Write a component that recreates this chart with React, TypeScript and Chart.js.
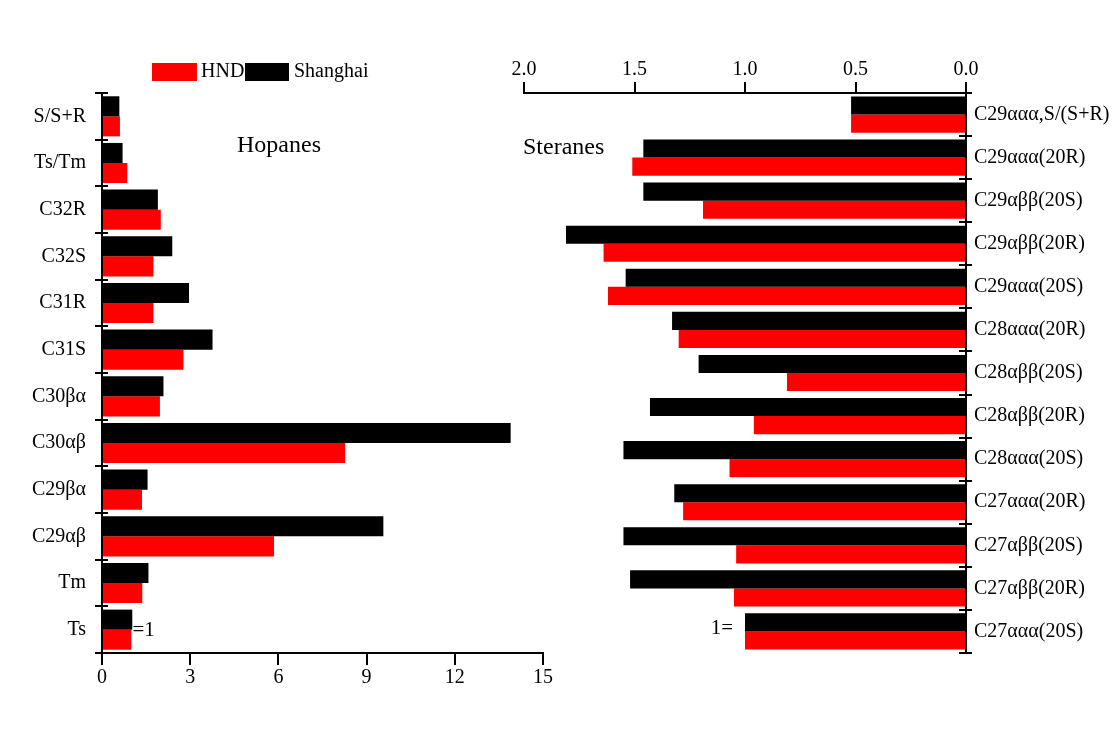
import React, { useEffect, useRef } from "react";
import { Chart, registerables } from "chart.js";
Chart.register(...registerables);

const FONT = "'Liberation Serif', 'Times New Roman', serif";

const HOP_LABELS = ["S/S+R", "Ts/Tm", "C32R", "C32S", "C31R", "C31S", "C30βα", "C30αβ", "C29βα", "C29αβ", "Tm", "Ts"];
const HOP_HND = [0.61, 0.86, 2.0, 1.75, 1.75, 2.77, 1.97, 8.27, 1.36, 5.85, 1.37, 1.0];
const HOP_SH = [0.59, 0.7, 1.9, 2.39, 2.96, 3.76, 2.09, 13.9, 1.55, 9.57, 1.58, 1.03];
const HOP_MAX = 15;
const HOP_STEP = 3;

const STE_LABELS = [
  "C29ααα,S/(S+R)", "C29ααα(20R)", "C29αββ(20S)", "C29αββ(20R)", "C29ααα(20S)",
  "C28ααα(20R)", "C28αββ(20S)", "C28αββ(20R)", "C28ααα(20S)", "C27ααα(20R)",
  "C27αββ(20S)", "C27αββ(20R)", "C27ααα(20S)",
];
const STE_HND = [0.52, 1.51, 1.19, 1.64, 1.62, 1.3, 0.81, 0.96, 1.07, 1.28, 1.04, 1.05, 1.0];
const STE_SH = [0.52, 1.46, 1.46, 1.81, 1.54, 1.33, 1.21, 1.43, 1.55, 1.32, 1.55, 1.52, 1.0];
const STE_MAX = 2.0;
const STE_STEP = 0.5;

const SERIES_NAMES = ["HND", "Shanghai"];
const RED = "#ff0000";
const BLACK = "#000000";

function crossTicks(chart: any, side: "left" | "right") {
  const ctx = chart.ctx;
  const y = chart.scales.y;
  const ax = side === "left" ? y.right : y.left;
  const n = y.ticks.length;
  ctx.save();
  ctx.strokeStyle = "#000";
  ctx.lineWidth = 2;
  for (let i = 0; i <= n; i++) {
    const py = Math.round(y.top + ((y.bottom - y.top) * i) / n);
    ctx.beginPath();
    ctx.moveTo(ax - 7, py);
    ctx.lineTo(ax + 6, py);
    ctx.stroke();
  }
  ctx.restore();
}

const leftDeco = {
  id: "leftDeco",
  afterDraw(chart: any) {
    crossTicks(chart, "left");
    const ctx = chart.ctx;
    const xs = chart.scales.x;
    const ys = chart.scales.y;
    ctx.save();
    ctx.textBaseline = "middle";
    ctx.textAlign = "left";
    // legend
    ctx.fillStyle = RED;
    ctx.fillRect(152, 63, 45, 18);
    ctx.fillStyle = "#000";
    ctx.font = `20px ${FONT}`;
    ctx.fillText(SERIES_NAMES[0], 201, 72);
    ctx.fillStyle = BLACK;
    ctx.fillRect(245, 63, 44, 18);
    ctx.fillStyle = "#000";
    ctx.fillText(SERIES_NAMES[1], 294, 72);
    // panel title
    ctx.font = `24px ${FONT}`;
    ctx.fillText("Hopanes", 237, 146);
    // =1 note
    ctx.font = `21px ${FONT}`;
    const last = HOP_LABELS.length - 1;
    ctx.fillText("=1", xs.getPixelForValue(1) + 1, ys.getPixelForValue(last) + 1);
    ctx.restore();
  },
};

const rightDeco = {
  id: "rightDeco",
  afterDraw(chart: any) {
    crossTicks(chart, "right");
    const ctx = chart.ctx;
    const xs = chart.scales.x;
    const ys = chart.scales.y;
    ctx.save();
    ctx.textBaseline = "middle";
    ctx.fillStyle = "#000";
    ctx.font = `24px ${FONT}`;
    ctx.textAlign = "left";
    ctx.fillText("Steranes", 523, 148);
    ctx.font = `21px ${FONT}`;
    ctx.textAlign = "right";
    const last = STE_LABELS.length - 1;
    ctx.fillText("1=", xs.getPixelForValue(1) - 12, ys.getPixelForValue(last) - 3);
    ctx.restore();
  },
};

export default function App() {
  const leftRef = useRef<HTMLCanvasElement>(null);
  const rightRef = useRef<HTMLCanvasElement>(null);

  useEffect(() => {
    Chart.defaults.font.family = FONT;
    Chart.defaults.color = "#000";

    const left = new Chart(leftRef.current as HTMLCanvasElement, {
      type: "bar",
      data: {
        labels: HOP_LABELS,
        datasets: [
          { label: SERIES_NAMES[1], data: HOP_SH, backgroundColor: BLACK, categoryPercentage: 0.86, barPercentage: 1 },
          { label: SERIES_NAMES[0], data: HOP_HND, backgroundColor: RED, categoryPercentage: 0.86, barPercentage: 1 },
        ],
      },
      options: {
        indexAxis: "y",
        responsive: false,
        animation: false,
        devicePixelRatio: 1,
        layout: { padding: { left: 12, right: 570, top: 93, bottom: 40 } },
        plugins: { legend: { display: false }, tooltip: { enabled: false } },
        scales: {
          x: {
            type: "linear",
            position: "bottom",
            min: 0,
            max: HOP_MAX,
            ticks: { stepSize: HOP_STEP, font: { size: 20, family: FONT }, color: "#000", padding: 1 },
            grid: { drawOnChartArea: false, drawTicks: true, tickLength: 12, color: "#000", lineWidth: 2 },
            border: { display: true, color: "#000", width: 2 },
            afterFit: (s: any) => { s.height = 40; },
          },
          y: {
            type: "category",
            position: "left",
            ticks: { font: { size: 20, family: FONT }, color: "#000", padding: 16 },
            grid: { drawOnChartArea: false, drawTicks: false },
            border: { display: true, color: "#000", width: 2 },
            afterFit: (s: any) => { s.width = 90; },
          },
        },
      } as any,
      plugins: [leftDeco],
    });

    const right = new Chart(rightRef.current as HTMLCanvasElement, {
      type: "bar",
      data: {
        labels: STE_LABELS,
        datasets: [
          { label: SERIES_NAMES[1], data: STE_SH, backgroundColor: BLACK, categoryPercentage: 0.84, barPercentage: 1 },
          { label: SERIES_NAMES[0], data: STE_HND, backgroundColor: RED, categoryPercentage: 0.84, barPercentage: 1 },
        ],
      },
      options: {
        indexAxis: "y",
        responsive: false,
        animation: false,
        devicePixelRatio: 1,
        layout: { padding: { left: 524, right: 0, top: 53, bottom: 80 } },
        plugins: { legend: { display: false }, tooltip: { enabled: false } },
        scales: {
          x: {
            type: "linear",
            position: "top",
            reverse: true,
            min: 0,
            max: STE_MAX,
            ticks: {
              stepSize: STE_STEP,
              font: { size: 20, family: FONT },
              color: "#000",
              padding: 0,
              callback: (v: any) => Number(v).toFixed(1),
            },
            grid: { drawOnChartArea: false, drawTicks: true, tickLength: 11, color: "#000", lineWidth: 2 },
            border: { display: true, color: "#000", width: 2 },
            afterFit: (s: any) => { s.height = 40; },
          },
          y: {
            type: "category",
            position: "right",
            ticks: { font: { size: 20, family: FONT }, color: "#000", padding: 8 },
            grid: { drawOnChartArea: false, drawTicks: false },
            border: { display: true, color: "#000", width: 2 },
            afterFit: (s: any) => { s.width = 147; },
          },
        },
      } as any,
      plugins: [rightDeco],
    });

    return () => {
      left.destroy();
      right.destroy();
    };
  }, []);

  return (
    <div style={{ position: "absolute", left: 0, top: 0, width: 1113, height: 733, background: "#fff" }}>
      <canvas ref={leftRef} width={1113} height={733} style={{ position: "absolute", left: 0, top: 0 }} />
      <canvas ref={rightRef} width={1113} height={733} style={{ position: "absolute", left: 0, top: 0 }} />
    </div>
  );
}
